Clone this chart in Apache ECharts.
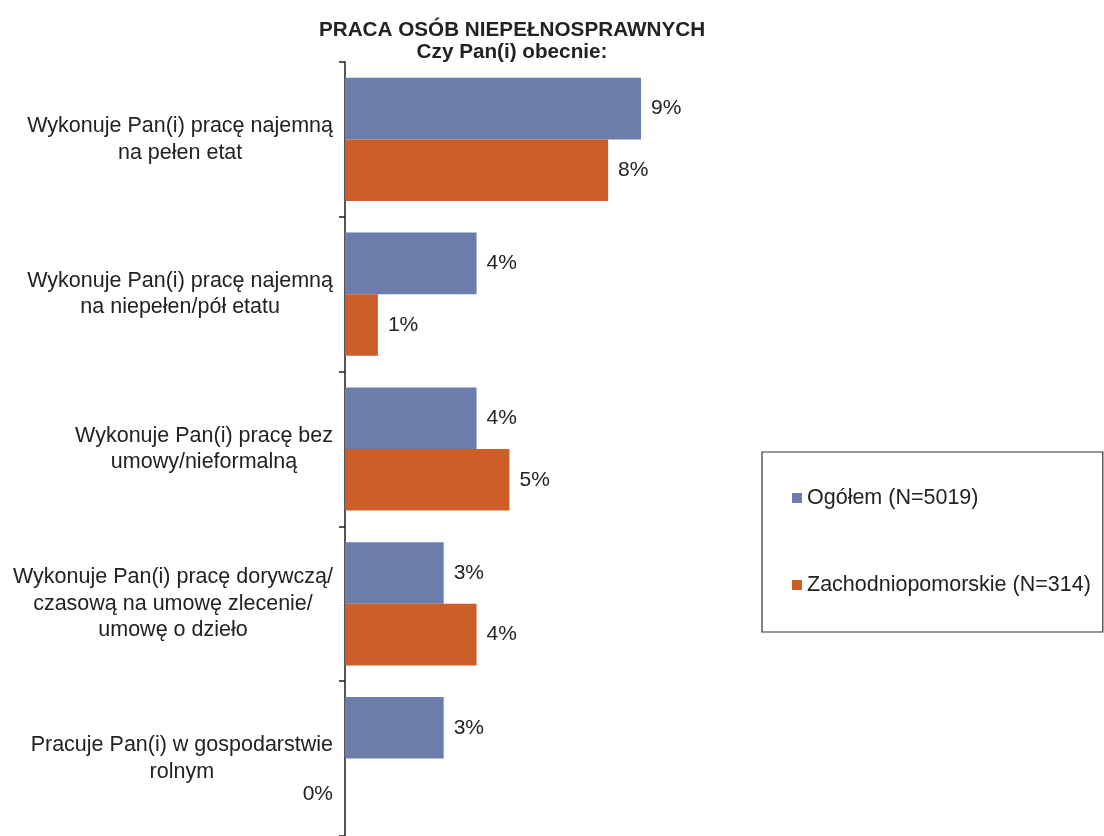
<!DOCTYPE html>
<html><head><meta charset="utf-8">
<script src="https://cdn.jsdelivr.net/npm/echarts@6/dist/echarts.min.js"></script>
<style>html,body{margin:0;padding:0;background:#fff}#c{width:1104px;height:836px}</style>
</head><body><div id="c"></div>
<script>
const categories = [
  "Wykonuje Pan(i) pracę najemną\nna pełen etat",
  "Wykonuje Pan(i) pracę najemną\nna niepełen/pół etatu",
  "Wykonuje Pan(i) pracę bez\numowy/nieformalną",
  "Wykonuje Pan(i) pracę dorywczą/\nczasową na umowę zlecenie/\numowę o dzieło",
  "Pracuje Pan(i) w gospodarstwie\nrolnym"
];
const seriesNames = ["Ogółem (N=5019)", "Zachodniopomorskie (N=314)"];
const ogolem = [9, 4, 4, 3, 3];
const zachodniopomorskie = [8, 1, 5, 4, 0];
const titleLines = ["PRACA OSÓB NIEPEŁNOSPRAWNYCH", "Czy Pan(i) obecnie:"];

const FONT = "Liberation Sans, Arial, sans-serif";
const FS = 21.5;
const chart = echarts.init(document.getElementById('c'));
const labelCommon = {show:true, position:'right', distance:10, formatter:'{c}%', color:'#222', fontSize:21, fontFamily:FONT};
chart.setOption({
  animation:false,
  title:{text:titleLines.join('\n'), left:507, textAlign:'center', top:14,
    textStyle:{fontFamily:FONT, fontWeight:'bold', fontSize:20.7, lineHeight:22, color:'#222'}},
  legend:{orient:'vertical', left:762, top:452, itemWidth:10, itemHeight:10, itemGap:65,
    padding:[35,12,36,30], borderColor:'#333', borderWidth:1.2, icon:'rect',
    textStyle:{fontFamily:FONT, fontSize:FS, color:'#222'}, data:seriesNames},
  grid:{left:345, top:62, width:328.9, height:779},
  xAxis:{type:'value', min:0, max:10, show:false},
  yAxis:{type:'category', inverse:true, data:categories,
    axisLine:{lineStyle:{color:'#2a2a2a', width:1.6}},
    axisTick:{show:true, inside:false, length:6, lineStyle:{color:'#2a2a2a', width:1.6}},
    axisLabel:{margin:12, align:'right', fontFamily:FONT, fontSize:FS, color:'#222', lineHeight:26.5,
      formatter:function(v){return v.split('\n').map(s=>'{c|'+s+'}').join('\n');},
      rich:{c:{align:'center', fontFamily:FONT, fontSize:FS, color:'#222', lineHeight:26.5}}}},
  series:[
    {name:seriesNames[0], type:'bar', data:ogolem, barGap:'0%', barCategoryGap:'20.4%',
      itemStyle:{color:'#6C7DAB'}, label:labelCommon},
    {name:seriesNames[1], type:'bar', itemStyle:{color:'#CC5E2A'}, label:labelCommon,
      data:zachodniopomorskie.map(v => v === 0 ? {value:v, label:{position:'left', distance:12, offset:[0,5]}} : v)}
  ]
});
</script></body></html>
